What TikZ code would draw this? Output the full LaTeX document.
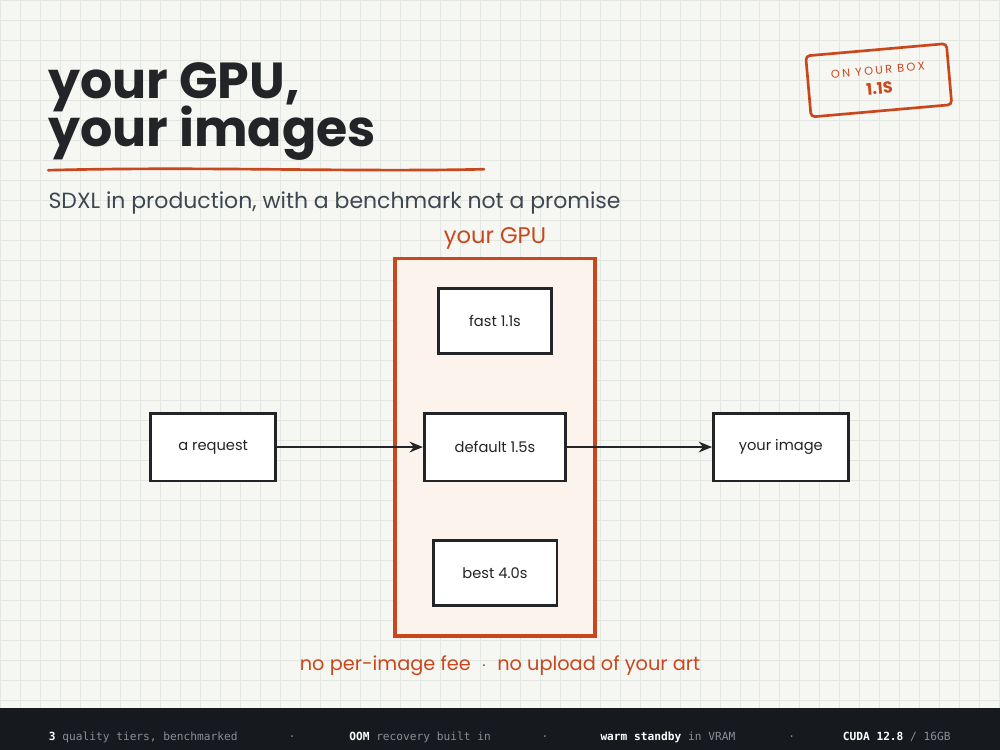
\documentclass[tikz,border=0pt]{standalone}
\usepackage{fontspec}
\setmainfont{Poppins}
\newfontfamily\monof{DejaVu Sans Mono}
\usetikzlibrary{arrows.meta,patterns}
\definecolor{bg}{HTML}{F6F6F2}
\definecolor{gridc}{HTML}{E2E7E2}
\definecolor{orng}{HTML}{C8471C}
\definecolor{ink}{HTML}{222427}
\definecolor{foot}{HTML}{16191D}
\definecolor{footg}{HTML}{8A8F96}
\definecolor{sub}{HTML}{3E4650}
\definecolor{fillo}{HTML}{FCF3EC}
\begin{document}
\begin{tikzpicture}[x=0.75pt,y=-0.75pt,
  box/.style={draw=ink,line width=2.2pt,fill=white,minimum height=49pt,inner sep=0pt,font=\fontsize{11}{13}\selectfont,text=ink},
  arr/.style={draw=ink,line width=2pt,-{Stealth[length=10pt,width=8pt]}},
  ft/.style={font=\monof\fontsize{8.4}{10}\selectfont,text=footg,anchor=base}]
\fill[bg] (0,0) rectangle (1000,750);
\foreach \i in {0,20,...,1000} \draw[gridc,line width=0.5pt] (\i,0) -- (\i,708);
\foreach \j in {0,20,...,700} \draw[gridc,line width=0.5pt] (0,\j) -- (1000,\j);
\fill[foot] (0,708) rectangle (1000,750);
% title
\node[anchor=base west,text=ink,font=\fontsize{38}{42}\selectfont\bfseries,inner sep=0] (t1) at (48,98) {your GPU,};
\node[anchor=base west,text=ink,font=\fontsize{38}{42}\selectfont\bfseries,inner sep=0] (t2) at (48,146) {your images};
\draw[orng,line width=2pt,line cap=round] (48,170) .. controls (200,166) and (350,172) .. (484,169);
\node[anchor=base west,text=sub,font=\fontsize{16.5}{19}\selectfont,inner sep=0] (st) at (48,208) {SDXL in production, with a benchmark not a promise};
% stamp
\node[rotate=5,draw=orng,line width=2pt,rounded corners=3pt,minimum width=106pt,minimum height=46pt,text=orng,align=center,font=\fontsize{8.5}{10}\selectfont] (stamp) at (879,80) {\addfontfeatures{LetterSpace=20}ON YOUR BOX\\[5pt]{\fontsize{12}{14}\selectfont\bfseries 1.1S}};
% GPU group
\draw[orng,line width=2.5pt,fill=fillo] (395,258) rectangle (595,636);
\node[text=orng,font=\fontsize{17}{20}\selectfont] (gl) at (495,238) {your GPU};
\node[box,minimum width=85pt] (fast) at (495,321) {fast 1.1s};
\node[box,minimum width=106pt,minimum height=51pt] (def) at (495,447) {default 1.5s};
\node[box,minimum width=93pt] (best) at (495,573) {best 4.0s};
\node[box,minimum width=94pt,minimum height=51pt] (req) at (213,447) {a request};
\node[box,minimum width=101pt,minimum height=51pt] (img) at (781,447) {your image};
\draw[arr] (req) -- (def);
\draw[arr] (def) -- (img);
\node[text=orng,font=\fontsize{14.5}{17}\selectfont] (note) at (500,666) {no per-image fee \;$\cdot$\; no upload of your art};
% footer
\node[ft] (f1) at (143,741) {\textcolor{white}{\bfseries 3} quality tiers, benchmarked};
\node[ft] (d1) at (292,741) {·};
\node[ft] (f2) at (420,741) {\textcolor{white}{\bfseries OOM} recovery built in};
\node[ft] (d2) at (545,741) {·};
\node[ft] (f3) at (668,741) {\textcolor{white}{\bfseries warm standby} in VRAM};
\node[ft] (d3) at (792,741) {·};
\node[ft] (f4) at (897,741) {\textcolor{white}{\bfseries CUDA 12.8} / 16GB};
\end{tikzpicture}
\end{document}
